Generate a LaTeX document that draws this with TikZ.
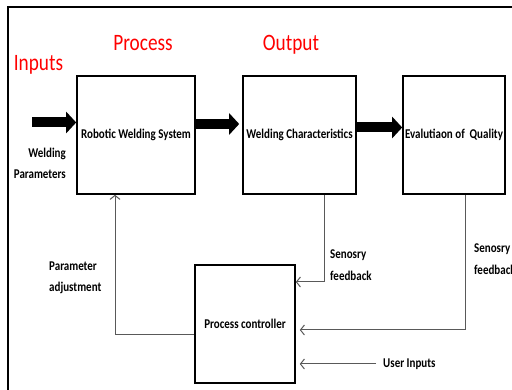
\documentclass[tikz,border=0pt]{standalone}
\usepackage{fontspec}
\setmainfont{Carlito}
\newfontfamily\narrowfont[FakeStretch=0.82]{Carlito}
\usetikzlibrary{arrows.meta}

\tikzstyle{block} = [rectangle, minimum height=118pt, inner sep=1pt, text centered, draw=black, line width=1.6pt, font=\narrowfont\fontsize{13.4}{15}\selectfont\bfseries]
\tikzstyle{heading} = [text=red, inner sep=0pt, font=\narrowfont\fontsize{23.5}{26}\selectfont]
\tikzstyle{note} = [align=left, inner sep=0pt, font=\narrowfont\fontsize{13.4}{21.5}\selectfont\bfseries]
\tikzstyle{fatarrow} = [line width=10pt, -{Triangle[length=10pt,width=21pt]}]
\tikzstyle{arrow} = [line width=1pt, black!65, -{Straight Barb[length=4pt,width=10pt]}]

\begin{document}
\begin{tikzpicture}[x=1pt, y=1pt, node distance=160pt]
	\useasboundingbox (0,0) rectangle (512,390);
	\clip (0,0) rectangle (512,390);
	\fill [white] (0,0) rectangle (512,390);
	\draw [line width=2.5pt] (8,-20) -- (8,383) -- (530,383);

	% main chain
	\node (robot) [block, minimum width=118pt] at (136,255) {Robotic Welding System};
	\node (weld) [block, right of=robot, xshift=3.5pt, minimum width=113pt] {Welding Characteristics};
	\node (eval) [block, right of=weld, xshift=-5.5pt, minimum width=102pt] {Evalutiaon of~ Quality};
	\node (ctrl) [block, below of=robot, xshift=109pt, yshift=-29pt, minimum width=100pt] {Process controller};

	% headings
	\node (inputs) [heading] at (38.5,325) {Inputs};
	\node (process) [heading] at (143,346.5) {Process};
	\node (output) [heading] at (291,345) {Output};

	% side notes
	\node (wparam) [note, align=right, anchor=east] at (66,226.5) {Welding\\Parameters};
	\node (fb1) [note, anchor=west] at (330,125) {Senosry\\feedback};
	\node (fb2) [note, anchor=west] at (474,131) {Senosry\\feedback};
	\node (adjust) [note, anchor=west] at (49,112) {Parameter\\adjustment};
	\node (user) [note, anchor=west] at (383,26) {User Inputs};

	\coordinate (src) at (32,267.5);
	\coordinate (usr) at (376,26);
	\coordinate (ctrlin) at ([xshift=4pt]ctrl.east);

	\draw [fatarrow] (src) -- (src -| robot.west);
	\draw [fatarrow, shorten >=3pt] ([yshift=11pt]robot.east) -- ([yshift=11pt]weld.west);
	\draw [fatarrow] ([yshift=7.5pt]weld.east) -- ([yshift=7.5pt]eval.west);

	\draw [arrow] ([xshift=24.5pt]weld.south) |- ([yshift=42pt]ctrl.east);
	\draw [arrow] ([xshift=11pt]eval.south) |- ([yshift=-6pt]ctrlin);
	\draw [arrow] (usr) -- (usr -| ctrlin);
	\draw [arrow] ([yshift=-11pt]ctrl.west) -| ([xshift=-21pt]robot.south);

\end{tikzpicture}
\end{document}
